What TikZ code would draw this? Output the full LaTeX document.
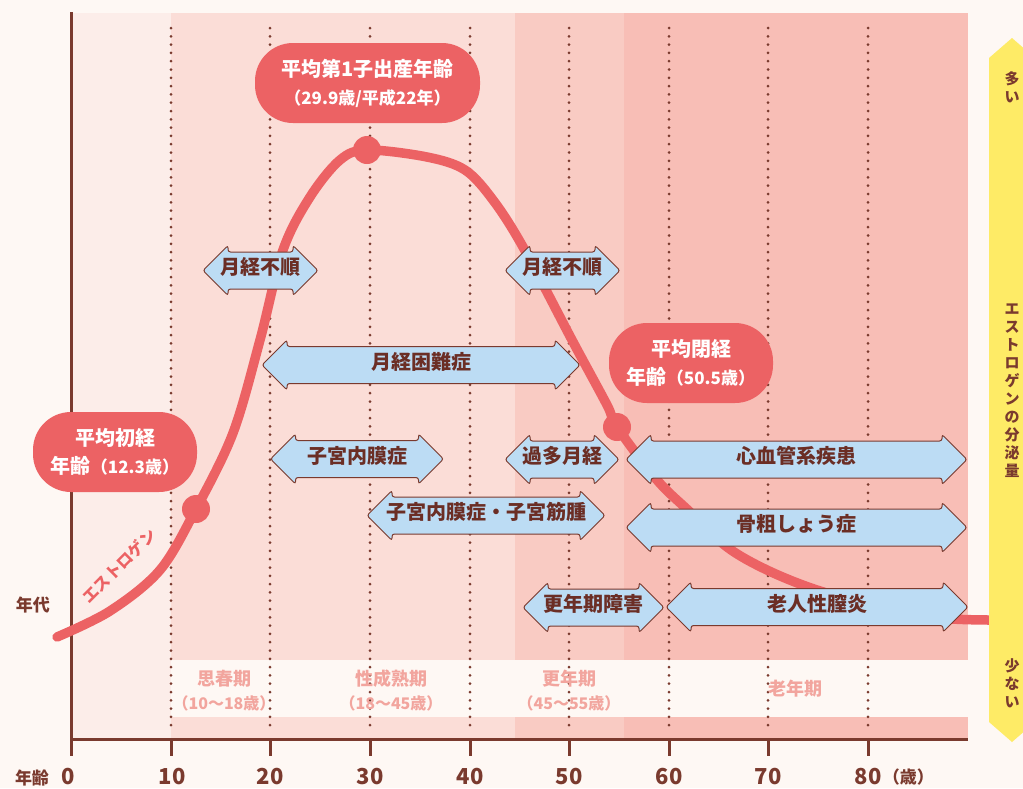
\documentclass[tikz,border=0pt]{standalone}
\usepackage{fontspec}
\setmainfont{Noto Sans CJK JP}
\usetikzlibrary{shapes.arrows}
\usetikzlibrary{positioning}

\definecolor{cream}{HTML}{FEF8F4}
\definecolor{bandA}{HTML}{FCEDE9}
\definecolor{bandB}{HTML}{FBDDD7}
\definecolor{bandC}{HTML}{F9CBC3}
\definecolor{bandD}{HTML}{F8BEB6}
\definecolor{estro}{HTML}{EC6264}
\definecolor{sickblue}{HTML}{BCDCF4}
\definecolor{axisbrown}{HTML}{7A3A2E}
\definecolor{sicktext}{HTML}{6B2E25}
\definecolor{periodpink}{HTML}{F2A59E}
\definecolor{amountyellow}{HTML}{FEEB66}

\tikzset{
 dotline/.style={draw=axisbrown, line width=3pt, line cap=round, dash pattern=on 0pt off 8.3pt},
 axis/.style={draw=axisbrown, line width=3pt},
 agenum/.style={text=axisbrown, inner sep=0pt, font=\fontsize{22pt}{22pt}\selectfont\bfseries},
 dot/.style={circle, fill=estro, minimum size=28pt, inner sep=0pt},
 bubble/.style={fill=estro, rounded corners=38pt, text=white, align=center, inner sep=0pt,
   minimum height=80pt, font=\fontsize{20pt}{28pt}\selectfont\bfseries},
 sick/.style={double arrow, draw=axisbrown, line width=1pt, fill=sickblue, rounded corners=2.5pt,
   double arrow head extend=6.5pt, inner xsep=-30pt, inner ysep=9pt, text height=13pt, text depth=5pt,
   text=sicktext, font=\fontsize{20pt}{20pt}\selectfont\bfseries},
 period/.style={text=periodpink, inner sep=0pt, font=\fontsize{18pt}{18pt}\selectfont\bfseries},
 periodsub/.style={text=periodpink, inner sep=0pt, font=\fontsize{16pt}{16pt}\selectfont\bfseries},
 amount/.style={text=axisbrown, align=center, inner sep=0pt, font=\fontsize{15pt}{18pt}\selectfont\bfseries}
}

\begin{document}
\begin{tikzpicture}[x=1pt, y=-1pt]

\useasboundingbox (0,0) rectangle (1023,788);
\fill[cream] (0,0) rectangle (1023,788);

% age bands
\fill[bandA] (71,13) rectangle (171,738);
\fill[bandB] (171,13) rectangle (515,738);
\fill[bandC] (515,13) rectangle (624,738);
\fill[bandD] (624,13) rectangle (968,738);
\fill[cream] (171,660) rectangle (968,717);

% every ten years
\draw[dotline] (270,28) -- (270,730);
\draw[dotline] (370,28) -- (370,730);
\draw[dotline] (470,28) -- (470,730);
\draw[dotline] (569,28) -- (569,730);
\draw[dotline] (669,28) -- (669,730);
\draw[dotline] (768,28) -- (768,730);
\draw[dotline] (868,28) -- (868,730);
\draw[dotline] (171,28) -- (171,730);

% axes
\draw[axis] (71,12) -- (71,739) -- (968,739);
\draw[axis]
 (71,739) -- (71,756)
 (171,739) -- (171,756)
 (270,739) -- (270,756)
 (370,739) -- (370,756)
 (470,739) -- (470,756)
 (569,739) -- (569,756)
 (669,739) -- (669,756)
 (768,739) -- (768,756)
 (868,739) -- (868,756)
;

\node[agenum, font=\fontsize{17pt}{17pt}\selectfont\bfseries] (agetitle) at (32,778) {年齢};
\node[agenum] (n0) at (68,777) {0};
\node[agenum] (n10) at (172,777) {10};
\node[agenum] (n20) at (270,777) {20};
\node[agenum] (n30) at (370,777) {30};
\node[agenum] (n40) at (470,777) {40};
\node[agenum] (n50) at (569,777) {50};
\node[agenum] (n60) at (669,777) {60};
\node[agenum] (n70) at (768,777) {70};
\node[agenum] (n80) at (868,777) {80};
\node[agenum, font=\fontsize{17pt}{17pt}\selectfont\bfseries, right=1pt of n80] (unit) {（歳）};
\node[agenum, font=\fontsize{17pt}{17pt}\selectfont\bfseries] (era) at (33,605) {年代};

% estrogen
\draw[estro, line width=9.5pt, line cap=round] plot[smooth, tension=0.55] coordinates {
 (57,637) (110,611) (160,570) (196,509) (233,433) (260,340) (283,250) (310,197)
 (340,160) (367,150) (427,157) (465,170) (493,200) (523,247) (572,340) (607,405)
 (617,427) (657,480) (690,512) (727,547) (767,570) (817,590) (880,607) (940,618) (990,620)};
\node[dot] (menarche) at (196,509) {};
\node[dot] (birth) at (367,150) {};
\node[dot] (menopause) at (617,427) {};
\node[text=estro, rotate=45, font=\fontsize{16pt}{16pt}\selectfont\bfseries] (estrolabel) at (119,566) {エストロゲン};

% averages
\node[bubble, minimum width=225pt] (birthbox) at (367.5,83)
 {平均第1子出産年齢\\{\fontsize{17pt}{28pt}\selectfont （29.9歳/平成22年）}};
\node[bubble, minimum width=164pt] (menarchebox) at (115,452)
 {平均初経\\年齢{\fontsize{17pt}{28pt}\selectfont （12.3歳）}};
\node[bubble, minimum width=164pt] (menopausebox) at (691,363)
 {平均閉経\\年齢{\fontsize{17pt}{28pt}\selectfont （50.5歳）}};

% troubles
\node[sick, minimum height=115pt] (irregA) at (260.5,270.5) {月経不順};
\node[sick, minimum height=115pt] (irregB) at (562.5,270.5) {月経不順};
\node[sick, minimum height=318pt] (dysmen) at (421,365) {月経困難症};
\node[sick, minimum height=173pt] (endo) at (357,459) {子宮内膜症};
\node[sick, minimum height=238pt] (endomyo) at (486,515.5) {子宮内膜症・子宮筋腫};
\node[sick, minimum height=114pt] (heavy) at (562,459.5) {過多月経};
\node[sick, minimum height=341pt] (heart) at (796.5,459.5) {心血管系疾患};
\node[sick, minimum height=341pt] (bone) at (796.5,527.5) {骨粗しょう症};
\node[sick, minimum height=141pt] (climac) at (593.5,607.5) {更年期障害};
\node[sick, minimum height=302pt] (vagin) at (817,607) {老人性膣炎};

% periods
\node[period] (puberty) at (224,679) {思春期};
\node[periodsub] (pubertyage) at (224,703) {（10〜18歳）};
\node[period] (mature) at (391,679) {性成熟期};
\node[periodsub] (matureage) at (391,703) {（18〜45歳）};
\node[period] (change) at (569,679) {更年期};
\node[periodsub] (changeage) at (569,703) {（45〜55歳）};
\node[period] (old) at (795,689) {老年期};

% amount
\fill[amountyellow] (989,58) -- (1012,38) -- (1035,58) -- (1035,722) -- (1012,742) -- (989,722) -- cycle;
\node[amount] (many) at (1012,87) {多\\い};
\node[amount] (amountlabel) at (1012,391) {エ\\ス\\ト\\ロ\\ゲ\\ン\\の\\分\\泌\\量};
\node[amount] (few) at (1012,683) {少\\な\\い};

\end{tikzpicture}
\end{document}
